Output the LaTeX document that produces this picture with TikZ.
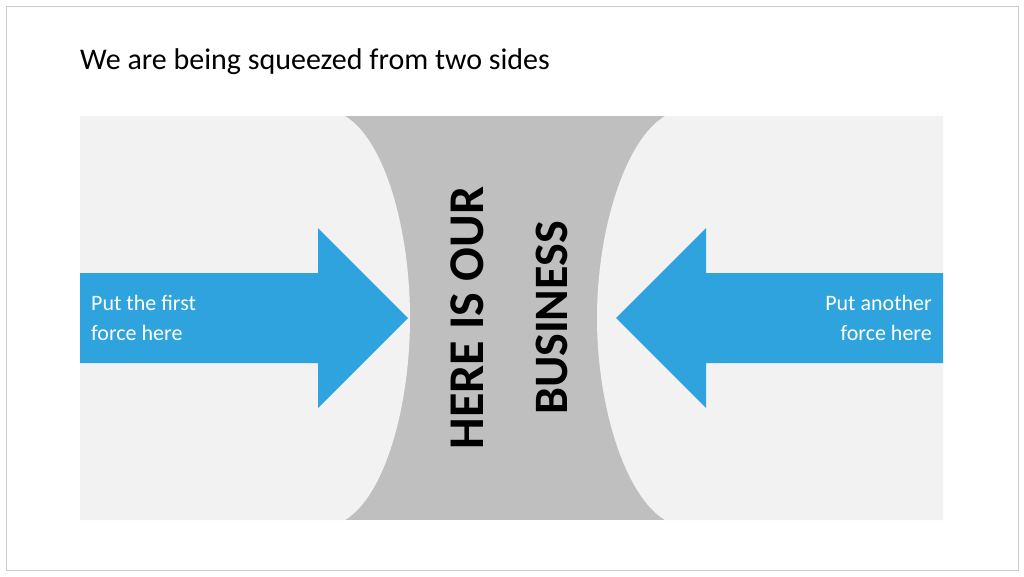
\documentclass[tikz,border=0pt]{standalone}
\usepackage{fontspec}
\setmainfont{Carlito}
\definecolor{lgray}{HTML}{F2F2F2}
\definecolor{mgray}{HTML}{BFBFBF}
\definecolor{ablue}{HTML}{2EA3DD}
\begin{document}
\begin{tikzpicture}[x=1pt,y=-1pt,
  arrowtxt/.style={text=white,font=\fontsize{22}{30}\selectfont,align=left,inner sep=0pt}]
\useasboundingbox (0,0) rectangle (1024,576);
\fill[white] (0,0) rectangle (1024,576);
\draw[black!20,line width=1pt] (6,6) rectangle (1018,570);
\node[anchor=west,inner sep=0pt,font=\fontsize{30}{36}\selectfont] (title) at (80,62) {We are being squeezed from two sides};
\fill[mgray] (80,116) rectangle (943,520);
\fill[lgray] (80,116) -- (345,116) .. controls (385,140) and (410,230) .. (410,318) .. controls (410,406) and (385,496) .. (345,520) -- (80,520) -- cycle;
\fill[lgray] (943,116) -- (665,116) .. controls (625,140) and (597,230) .. (597,318) .. controls (597,406) and (625,496) .. (665,520) -- (943,520) -- cycle;
\fill[ablue] (80,273) -- (318,273) -- (318,228) -- (408,318) -- (318,408) -- (318,363) -- (80,363) -- cycle;
\fill[ablue] (943,273) -- (706,273) -- (706,228) -- (616,318) -- (706,408) -- (706,363) -- (943,363) -- cycle;
\node[arrowtxt,anchor=west] (lt) at (91,318) {Put the first\\force here};
\node[arrowtxt,anchor=east,align=right] (rt) at (932,318) {Put another\\force here};
\node[rotate=90,inner sep=0pt,font=\bfseries\fontsize{50}{58}\selectfont] (l1) at (467,318) {HERE IS OUR};
\node[rotate=90,inner sep=0pt,font=\bfseries\fontsize{48}{58}\selectfont] (l2) at (552,318) {BUSINESS};
\end{tikzpicture}
\end{document}
